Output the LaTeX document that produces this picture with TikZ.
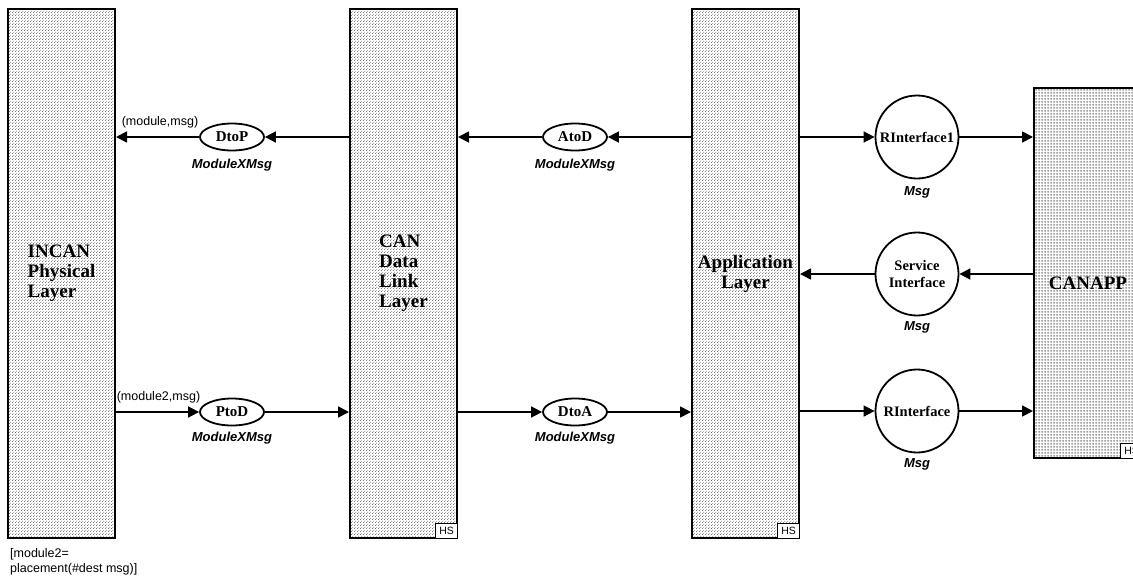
\documentclass[tikz,border=0pt]{standalone}
\usepackage{fontspec}
\setmainfont{Liberation Serif}
\setsansfont{Liberation Sans}
\usetikzlibrary{arrows.meta,patterns.meta,shapes.geometric}

% staggered dot texture for the layer blocks
\tikzdeclarepattern{
  name=layerdots, type=uncolored,
  bottom left={(0pt,0pt)}, top right={(3pt,3pt)},
  tile size={(3pt,3pt)},
  code={
    \pgfpathcircle{\pgfqpoint{0.75pt}{0.75pt}}{0.55pt}
    \pgfpathcircle{\pgfqpoint{2.25pt}{2.25pt}}{0.55pt}
    \pgfusepath{fill}
  }
}
% fine grid texture for the application block
\tikzdeclarepattern{
  name=appgrid, type=uncolored,
  bottom left={(0pt,0pt)}, top right={(2.5pt,2.5pt)},
  tile size={(2.5pt,2.5pt)},
  code={
    \pgfsetlinewidth{0.7pt}
    \pgfpathmoveto{\pgfqpoint{0pt}{1.25pt}}\pgfpathlineto{\pgfqpoint{2.5pt}{1.25pt}}
    \pgfpathmoveto{\pgfqpoint{1.25pt}{0pt}}\pgfpathlineto{\pgfqpoint{1.25pt}{2.5pt}}
    \pgfusepath{stroke}
  }
}

\begin{document}
\begin{tikzpicture}[x=1pt, y=-1pt,
  layer/.style={draw, line width=2pt, pattern=layerdots, pattern color=black!70,
    inner sep=0pt, minimum width=107pt, minimum height=529pt,
    font=\bfseries\fontsize{19}{20}\selectfont},
  appblock/.style={draw, line width=2pt, pattern=appgrid, pattern color=black!55,
    inner sep=0pt, minimum width=108pt, minimum height=370pt},
  proc/.style={ellipse, draw, line width=1.8pt, fill=white, minimum width=64pt,
    minimum height=27pt, inner sep=0pt, font=\bfseries\fontsize{15}{16}\selectfont},
  iface/.style={circle, draw, line width=1.8pt, fill=white, minimum size=83pt,
    inner sep=0pt, align=center, font=\bfseries\fontsize{14.5}{17}\selectfont},
  conn/.style={line width=1.7pt, -{Triangle[length=11pt,width=11pt]}},
  typ/.style={font=\sffamily\bfseries\itshape\fontsize{13}{14}\selectfont},
  note/.style={font=\sffamily\fontsize{12.5}{15}\selectfont},
  hs/.style={draw, line width=0.8pt, fill=white, minimum width=22pt, minimum height=15pt,
    inner sep=0pt, anchor=south east, font=\sffamily\fontsize{10.5}{11}\selectfont}]
\useasboundingbox (0,0) rectangle (1133,579);
\clip (0,0) rectangle (1133,579);

% layer blocks
\node[layer, align=left] (incan) at (61.5,273.5) {INCAN\\Physical\\Layer};
\node[layer, align=left] (can) at (403.5,273.5) {CAN\\Data\\Link\\Layer};
\node[layer, align=center] (app) at (745.5,273.5) {Application\\Layer};
\node[appblock] (canapp) at (1088,273) {};
\node[font=\bfseries\fontsize{19}{20}\selectfont] (canappT) at (1088,283) {CANAPP};

\node[hs] (canhs) at (can.south east) {HS};
\node[hs] (apphs) at (app.south east) {HS};
\node[hs] (canapphs) at (canapp.south east) {HS};

% processes between layers
\node[proc] (dtop) at (232,137) {DtoP};
\node[proc] (atod) at (575,137) {AtoD};
\node[proc] (ptod) at (232,412) {PtoD};
\node[proc] (dtoa) at (575,412) {DtoA};

% interfaces to the application
\node[iface] (rif1) at (917,137) {RInterface1};
\node[iface] (sif) at (917,274) {Service\\Interface};
\node[iface] (rif) at (917,411) {RInterface};

% connectors
\draw[conn] (can.west |- dtop) -- (dtop);
\draw[conn] (dtop) -- (incan.east |- dtop);
\draw[conn] (app.west |- atod) -- (atod);
\draw[conn] (atod) -- (can.east |- atod);
\draw[conn] (incan.east |- ptod) -- (ptod);
\draw[conn] (ptod) -- (can.west |- ptod);
\draw[conn] (can.east |- dtoa) -- (dtoa);
\draw[conn] (dtoa) -- (app.west |- dtoa);
\draw[conn] (app.east |- rif1) -- (rif1);
\draw[conn] (rif1) -- (canapp.west |- rif1);
\draw[conn] (canapp.west |- sif) -- (sif);
\draw[conn] (sif) -- (app.east |- sif);
\draw[conn] (app.east |- rif) -- (rif);
\draw[conn] (rif) -- (canapp.west |- rif);

% type labels
\node[typ] (dtopT) at (232,165) {ModuleXMsg};
\node[typ] (atodT) at (575,165) {ModuleXMsg};
\node[typ] (ptodT) at (232,438) {ModuleXMsg};
\node[typ] (dtoaT) at (575,438) {ModuleXMsg};
\node[typ] (rif1T) at (917,192) {Msg};
\node[typ] (sifT) at (917,327) {Msg};
\node[typ] (rifT) at (917,464) {Msg};

% notes
\node[note] (outN) at (160,122) {(module,msg)};
\node[note] (inN) at (158.5,397) {(module2,msg)};
\node[note, align=left, anchor=north west, inner sep=2pt] (placeN) at (8,546)
  {[module2=\\placement(\#dest msg)]};
\end{tikzpicture}
\end{document}
